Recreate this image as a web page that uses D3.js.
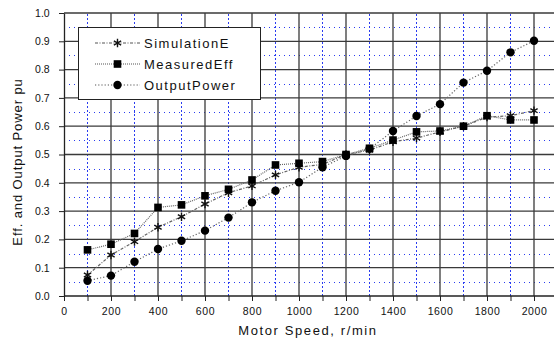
<!DOCTYPE html>
<html>
<head>
<meta charset="utf-8">
<script src="https://cdn.jsdelivr.net/npm/d3@7"></script>
<style>
  body { margin: 0; background: #fff; }
  svg { display: block; font-family: Arial, "Liberation Sans", sans-serif; }
</style>
</head>
<body>
<svg id="chart" width="554" height="340"></svg>
<script>
// Motor speed (r/min) and per-unit curves
const speeds = [100, 200, 300, 400, 500, 600, 700, 800, 900, 1000,
                1100, 1200, 1300, 1400, 1500, 1600, 1700, 1800, 1900, 2000];
const simulationE = [0.074, 0.145, 0.192, 0.243, 0.280, 0.325, 0.365, 0.389, 0.428, 0.455,
                     0.465, 0.500, 0.515, 0.545, 0.558, 0.580, 0.600, 0.632, 0.637, 0.655];
const measuredEff = [0.163, 0.183, 0.221, 0.313, 0.322, 0.354, 0.377, 0.410, 0.463, 0.469,
                     0.475, 0.500, 0.522, 0.551, 0.580, 0.583, 0.600, 0.637, 0.622, 0.622];
const outputPower = [0.054, 0.072, 0.121, 0.166, 0.195, 0.231, 0.277, 0.331, 0.372, 0.402,
                     0.455, 0.495, 0.520, 0.583, 0.636, 0.678, 0.754, 0.796, 0.861, 0.902];
const seriesNames = ["SimulationE", "MeasuredEff", "OutputPower"];
const xTickLabels = [0, 200, 400, 600, 800, 1000, 1200, 1400, 1600, 1800, 2000];
const yTickLabels = ["0.0", "0.1", "0.2", "0.3", "0.4", "0.5", "0.6", "0.7", "0.8", "0.9", "1.0"];

const svg = d3.select("#chart");
const W = 554;

const x = d3.scaleLinear().domain([0, 2000]).range([64, 534]);
const y = d3.scaleLinear().domain([0, 1]).range([296, 13]);
const xEnd = x.invert(W);

const minorX = d3.range(100, xEnd, 200);
const majorX = d3.range(200, xEnd, 200);
const minorY = d3.range(0.05, 1, 0.1);
const majorY = d3.range(0.1, 1.001, 0.1);

const grid = svg.append("g");
// blue dotted minor grid
grid.selectAll(".mx").data(minorX).join("line")
  .attr("x1", d => x(d)).attr("x2", d => x(d))
  .attr("y1", y(0)).attr("y2", y(1))
  .attr("stroke", "#2a3cf0").attr("stroke-width", 1)
  .attr("stroke-dasharray", "2,2");
grid.selectAll(".my").data(minorY).join("line")
  .attr("x1", x(0)).attr("x2", W)
  .attr("y1", d => Math.round(y(d)) + 0.5).attr("y2", d => Math.round(y(d)) + 0.5)
  .attr("stroke", "#2a3cf0").attr("stroke-width", 1)
  .attr("stroke-dasharray", "1,4");
// solid major grid
grid.selectAll(".Mx").data(majorX).join("line")
  .attr("x1", d => x(d)).attr("x2", d => x(d))
  .attr("y1", y(0)).attr("y2", y(1))
  .attr("stroke", "#3a3a3a").attr("stroke-width", 1.3);
grid.selectAll(".My").data(majorY).join("line")
  .attr("x1", x(0)).attr("x2", W)
  .attr("y1", d => y(d)).attr("y2", d => y(d))
  .attr("stroke", "#3a3a3a").attr("stroke-width", 1.3);

// axes
const xAxis = d3.axisBottom(x)
  .tickValues(d3.range(0, 2001, 100))
  .tickSize(5).tickSizeOuter(0)
  .tickFormat(d => xTickLabels.includes(d) ? d : "");
const gx = svg.append("g").attr("transform", `translate(0,${y(0)})`).call(xAxis);
gx.select(".domain").attr("d", `M${x(0)},0H${W}`).attr("stroke", "#222").attr("stroke-width", 1.3);
gx.selectAll(".tick line").attr("stroke", "#222");
gx.selectAll(".tick text").attr("font-size", 10.5).attr("letter-spacing", 0.6)
  .attr("fill", "#111").attr("dy", "1.05em");

const yAxis = d3.axisLeft(y)
  .tickValues(d3.range(0, 11).map(i => i / 10))
  .tickSize(5).tickSizeOuter(0)
  .tickFormat((d, i) => yTickLabels[i]);
const gy = svg.append("g").attr("transform", `translate(${x(0)},0)`).call(yAxis);
gy.select(".domain").attr("stroke", "#222").attr("stroke-width", 1.3);
gy.selectAll(".tick line").attr("stroke", "#222");
gy.selectAll(".tick text").attr("font-size", 10.5).attr("fill", "#111").attr("dx", "-0.6em");

// axis titles
svg.append("text")
  .attr("x", 308).attr("y", 335)
  .attr("text-anchor", "middle")
  .attr("font-size", 13).attr("letter-spacing", 1.6).attr("fill", "#111")
  .text("Motor Speed, r/min");
svg.append("text")
  .attr("transform", "translate(22,162) rotate(-90)")
  .attr("text-anchor", "middle")
  .attr("font-size", 13).attr("letter-spacing", 0.9).attr("fill", "#111")
  .text("Eff. and Output Power pu");

// marker shapes
const star = d3.symbol().type(d3.symbolAsterisk || d3.symbolCross).size(40);
function drawMarker(g, kind, cx, cy) {
  if (kind === "star") {
    const s = 4.2;
    const p = d3.path();
    for (let k = 0; k < 3; k++) {
      const a = Math.PI / 2 + k * Math.PI / 3;
      p.moveTo(cx + s * Math.cos(a), cy + s * Math.sin(a));
      p.lineTo(cx - s * Math.cos(a), cy - s * Math.sin(a));
    }
    g.append("path").attr("d", p.toString()).attr("stroke", "#111").attr("stroke-width", 1.4).attr("fill", "none");
  } else if (kind === "square") {
    g.append("rect").attr("x", cx - 3.8).attr("y", cy - 3.8)
      .attr("width", 7.6).attr("height", 7.6).attr("fill", "#000");
  } else {
    g.append("circle").attr("cx", cx).attr("cy", cy).attr("r", 4.2).attr("fill", "#000");
  }
}

const series = [
  { name: seriesNames[0], values: simulationE, marker: "star", dash: "3,1.5,1,1.5" },
  { name: seriesNames[1], values: measuredEff, marker: "square", dash: "1,1" },
  { name: seriesNames[2], values: outputPower, marker: "circle", dash: "1.2,2" }
];

const line = d3.line().x(d => x(d[0])).y(d => y(d[1]));
const plot = svg.append("g");
series.forEach(s => {
  const pts = speeds.map((v, i) => [v, s.values[i]]);
  plot.append("path").attr("d", line(pts))
    .attr("fill", "none").attr("stroke", "#666").attr("stroke-width", 1.2)
    .attr("stroke-dasharray", s.dash);
});
series.forEach(s => {
  const g = plot.append("g");
  speeds.forEach((v, i) => drawMarker(g, s.marker, x(v), y(s.values[i])));
});

// legend
const lg = svg.append("g");
lg.append("rect").attr("x", 78.5).attr("y", 27.5).attr("width", 182).attr("height", 72)
  .attr("fill", "#fff").attr("stroke", "#222").attr("stroke-width", 1);
series.forEach((s, i) => {
  const cy = 43 + i * 21;
  lg.append("line").attr("x1", 95).attr("x2", 140).attr("y1", cy).attr("y2", cy)
    .attr("stroke", "#555").attr("stroke-width", 1.2).attr("stroke-dasharray", s.dash);
  drawMarker(lg, s.marker, 117.5, cy);
  lg.append("text").attr("x", 144).attr("y", cy + 5)
    .attr("font-size", 13).attr("letter-spacing", 1.5).attr("fill", "#111")
    .text(s.name);
});
</script>
</body>
</html>
